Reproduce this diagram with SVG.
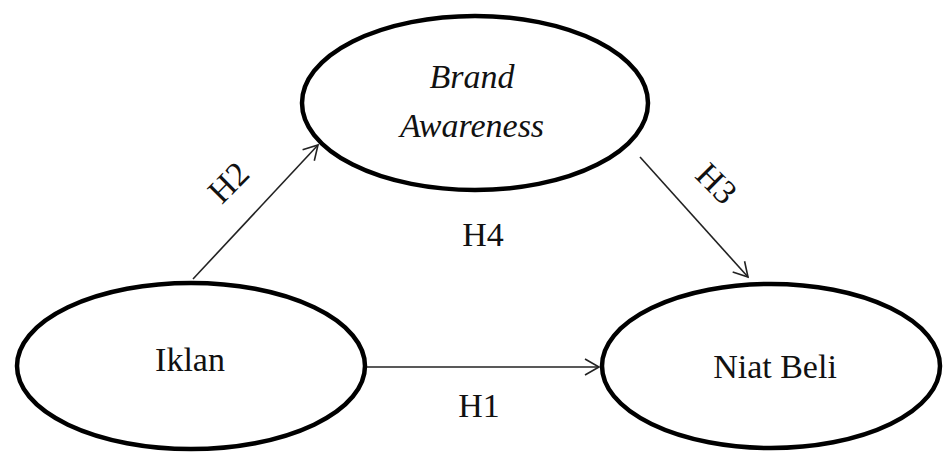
<svg xmlns="http://www.w3.org/2000/svg" width="944" height="452" viewBox="0 0 944 452">
<style>
.node ellipse{fill:#fff;stroke:#000;stroke-width:4.5}
.lbl{font-family:"Liberation Serif","Times New Roman",serif;font-size:34px;fill:#111;text-anchor:middle}
.it{font-style:italic}
.edge{stroke:#222;stroke-width:1.6;fill:none;marker-end:url(#arr)}
</style>
<defs>
<marker id="arr" markerUnits="userSpaceOnUse" markerWidth="20" markerHeight="20" viewBox="0 0 20 20" refX="18" refY="10" orient="auto">
<path d="M4,2 L18,10 L4,18" fill="none" stroke="#222" stroke-width="1.6"/>
</marker>
</defs>
<rect width="944" height="452" fill="#fff"/>
<g id="connectors">
<line class="edge" x1="193" y1="279" x2="318" y2="145"/>
<line class="edge" x1="640" y1="157" x2="748" y2="277"/>
<line class="edge" x1="367" y1="367" x2="599" y2="367"/>
</g>
<g id="brand-awareness" class="node">
<ellipse cx="475" cy="103" rx="173" ry="87"/>
<text class="lbl it" x="472" y="88">Brand</text>
<text class="lbl it" x="472" y="137">Awareness</text>
</g>
<g id="iklan" class="node">
<ellipse cx="191" cy="366" rx="174" ry="83"/>
<text class="lbl" x="190" y="371">Iklan</text>
</g>
<g id="niat-beli" class="node">
<ellipse cx="771" cy="366" rx="169" ry="82"/>
<text class="lbl" x="775" y="378">Niat Beli</text>
</g>
<g id="labels">
<text class="lbl" transform="translate(228,182) rotate(-45)" y="12">H2</text>
<text class="lbl" transform="translate(717,183) rotate(45)" y="12">H3</text>
<text class="lbl" x="483" y="246">H4</text>
<text class="lbl" x="479" y="417">H1</text>
</g>
</svg>
